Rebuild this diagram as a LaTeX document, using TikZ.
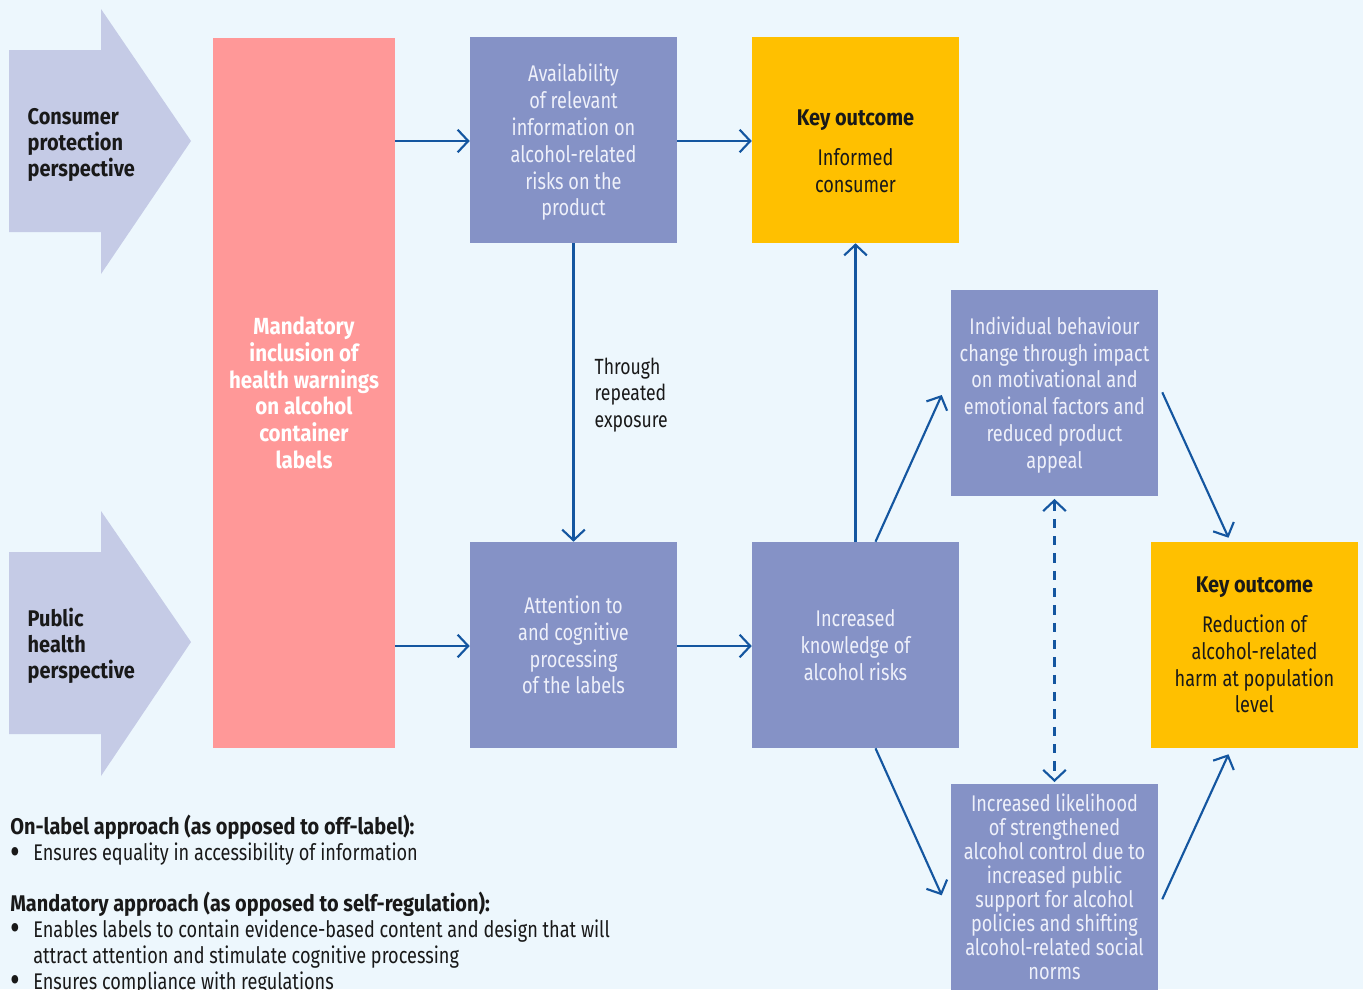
\documentclass[tikz,border=0pt]{standalone}
\usepackage{fontspec}
\setmainfont{Fira Sans}[FakeStretch=0.8, BoldFeatures={FakeStretch=0.88}]
\usepackage{tikz}
\usetikzlibrary{arrows.meta, positioning}
\definecolor{mybg}{RGB}{237,247,253}
\definecolor{myshape}{RGB}{197,203,230}
\definecolor{myred}{RGB}{255,152,152}
\definecolor{myslate}{RGB}{133,146,198}
\definecolor{mygold}{RGB}{255,192,0}
\definecolor{myline}{RGB}{20,86,160}
\definecolor{mylight}{RGB}{238,240,250}
\definecolor{mydark}{RGB}{25,25,25}
\tikzset{
  box/.style={rectangle, fill=myslate, text=mylight, minimum width=155.25pt,
    minimum height=154.5pt, align=center, inner sep=0pt,
    font=\fontsize{17}{20.1}\selectfont},
  keybox/.style={box, fill=mygold, text=mydark},
  persp/.style={anchor=west, align=left, text=mydark,
    font=\fontsize{17}{19.5}\selectfont\bfseries},
  arrow/.style={-{Straight Barb[length=8pt, width=17pt]}, line width=1.6pt, color=myline},
  dasharrow/.style={{Straight Barb[length=8pt, width=17pt]}-{Straight Barb[length=8pt, width=17pt]},
    line width=1.6pt, color=myline, dash pattern=on 7pt off 6pt}
}
\newcommand{\bul}{\makebox[17.25pt][l]{\hspace{0.5pt}\raisebox{-2.5pt}[0pt][0pt]{\fontsize{28}{0}\selectfont\textbullet}}}
\newcommand{\keyhead}{{\fontsize{17}{20}\selectfont\bfseries Key outcome}}

\begin{document}
\begin{tikzpicture}[x=0.75pt, y=-0.75pt]
  \fill[mybg] (0,0) rectangle (1363,989);
  \clip (0,0) rectangle (1363,989);
  \useasboundingbox (0,0) rectangle (1363,989);

  % Perspective arrows
  \fill[myshape] (9,50) -- (101,50) -- (101,9) -- (191,141) -- (101,274) -- (101,232) -- (9,232) -- cycle;
  \fill[myshape] (9,552) -- (101,552) -- (101,511) -- (191,642) -- (101,776) -- (101,734) -- (9,734) -- cycle;
  \node[persp] (consumer) at (23,145) {Consumer\\protection\\perspective};
  \node[persp] (public) at (23,646) {Public\\health\\perspective};

  % Main boxes
  \node[rectangle, fill=myred, text=white, minimum width=136.5pt, minimum height=532.5pt,
    align=center, inner sep=0pt, font=\fontsize{17.5}{20}\selectfont\bfseries]
    (mandatory) at (304,393) {Mandatory\\inclusion of\\health warnings\\on alcohol\\container\\labels};
  \node[box] (avail) at (573.5,140) {\rule{0pt}{17pt}Availability\\of relevant\\information on\\alcohol-related\\risks on the\\product};
  \node[keybox] (informed) at (855.5,140) {\rule{0pt}{28pt}\keyhead\\[10pt]Informed\\consumer};
  \node[box] (attention) at (573.5,645) {Attention to\\and cognitive\\processing\\of the labels};
  \node[box] (knowledge) at (855.5,645) {Increased\\knowledge of\\alcohol risks};
  \node[box] (behaviour) at (1054.5,393) {\rule{0pt}{16pt}Individual behaviour\\change through impact\\on motivational and\\emotional factors and\\reduced product\\appeal};
  \node[keybox] (harm) at (1254.5,645) {\keyhead\\[10pt]Reduction of\\alcohol-related\\harm at population\\level};
  \node[box, anchor=north, font=\fontsize{17}{18}\selectfont] (control) at (1054.5,784) {Increased likelihood\\of strengthened\\alcohol control due to\\increased public\\support for alcohol\\policies and shifting\\alcohol-related social\\norms};

  % Connectors
  \draw[arrow] (mandatory.east |- 0,141) -- (avail.west |- 0,141);
  \draw[arrow] (mandatory.east |- 0,646) -- (attention.west |- 0,646);
  \draw[arrow] (avail.east |- 0,141) -- (informed.west |- 0,141);
  \draw[arrow] (avail.south) -- (attention.north);
  \node[anchor=west, align=left, text=mydark, font=\fontsize{16.5}{20}\selectfont]
    (exposure) at (590,395) {Through\\repeated\\exposure};
  \draw[arrow] (attention.east |- 0,646) -- (knowledge.west |- 0,646);
  \draw[arrow] (knowledge.north) -- (informed.south);
  \draw[arrow] ([xshift=15pt]knowledge.north) -- ([xshift=-6.75pt, yshift=-1.5pt]behaviour.west);
  \draw[arrow] ([xshift=3pt, yshift=0.5pt]behaviour.east) -- ([xshift=-19.5pt, yshift=3pt]harm.north);
  \draw[arrow] ([xshift=15pt]knowledge.south) -- ([xshift=-6.75pt, yshift=-6pt]control.west);
  \draw[arrow] ([xshift=3pt, yshift=-9pt]control.east) -- ([xshift=-19.5pt, yshift=-4.5pt]harm.south);
  \draw[dasharrow] ([yshift=-2pt]behaviour.south) -- ([yshift=1.5pt]control.north);

  % Notes
  \node[anchor=north west, align=left, text=mydark, font=\fontsize{17}{19.5}\selectfont, inner sep=0pt]
    (notes) at (10,815) {{\bfseries On-label approach (as opposed to off-label):}\\
    \bul Ensures equality in accessibility of information\\[18.5pt]
    {\bfseries Mandatory approach (as opposed to self-regulation):}\\
    \bul Enables labels to contain evidence-based content and design that will\\
    \hspace*{17.25pt}attract attention and stimulate cognitive processing\\
    \bul Ensures compliance with regulations};
\end{tikzpicture}
\end{document}
